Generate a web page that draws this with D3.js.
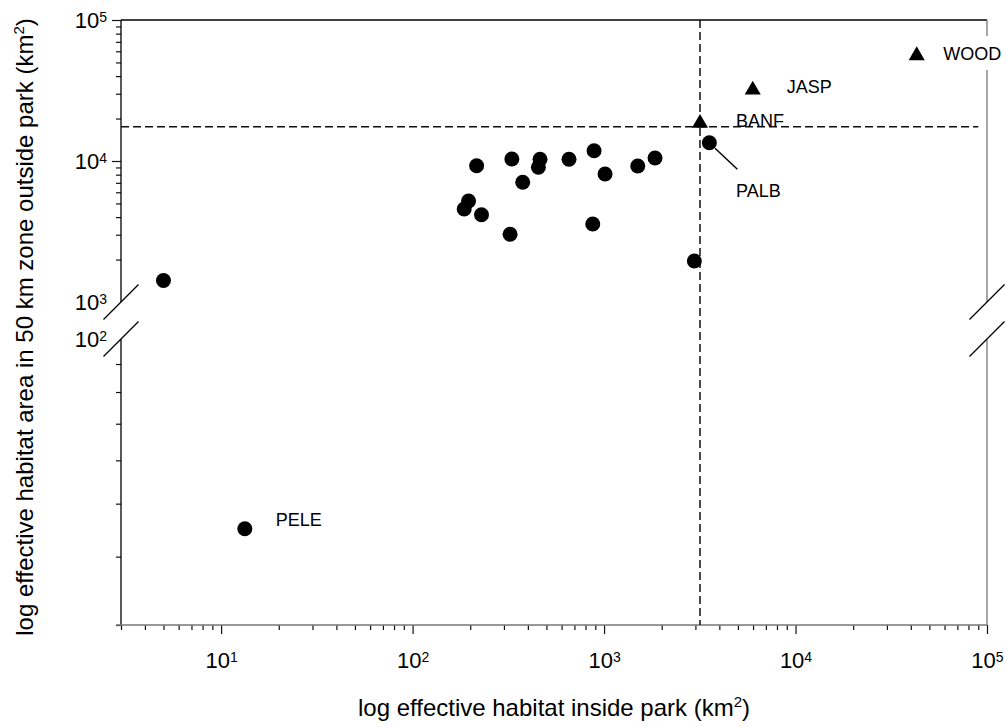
<!DOCTYPE html>
<html>
<head>
<meta charset="utf-8">
<script src="https://cdn.jsdelivr.net/npm/d3@7"></script>
<style>
  body { margin: 0; background: #fff; }
  svg text { font-family: Arial, "Liberation Sans", sans-serif; fill: #000; }
</style>
</head>
<body>
<svg id="chart" width="1007" height="727"></svg>
<script>
// parks drawn as circles: effective habitat inside park vs. in the 50 km zone (km2)
const circleNames = ['', 'PELE', '', '', '', '', '', '', '', '', '', '', '', '', '', '', '', '', 'PALB'];
const circleInside = [5, 13.3, 186, 196, 216, 229, 323, 330, 376, 463, 454, 656, 887, 873, 1012, 1500, 1846, 2962, 3548];
const circleOutside = [1420, 45, 4570, 5200, 9260, 4160, 3020, 10330, 7060, 10280, 9020, 10280, 11830, 3575, 8090, 9220, 10500, 1953, 13480];

// parks drawn as triangles
const triangleNames = ['BANF', 'JASP', 'WOOD'];
const triangleInside = [3170, 5977, 42950];
const triangleOutside = [18540, 31920, 55900];

// reference (dashed) lines
const thresholdInside = 3170;
const thresholdOutside = 17500;
const thresholdOutsideEnd = 90000;

const xTitle = 'log effective habitat inside park (km';
const yTitle = 'log effective habitat area in 50 km zone outside park (km';

/** label placement relative to its marker */
const labelLayout = {
  BANF: { dx: 36, dy: 3.5 },
  JASP: { dx: 34, dy: 3.4 },
  WOOD: { dx: 26.6, dy: 4.4, knockout: true },
  PALB: { dx: 26.7, dy: 54, leader: [[5.7, 5.6], [28, 26.6]] },
  PELE: { dx: 31, dy: -3 }
};

const svg = d3.select('#chart');

const x = d3.scaleLog().domain([3, 1e5]).range([121, 987]);
// broken y axis: upper and lower log segments
const yUpper = d3.scaleLog().domain([1e3, 1e5]).range([302, 20]);
const yLower = d3.scaleLog().domain([30, 100]).range([625, 339]);
const y = v => v >= 1e3 ? yUpper(v) : yLower(v);

const isPow10 = v => Math.abs(Math.log10(v) - Math.round(Math.log10(v))) < 1e-9;

function powerLabel(text) {
  text.each(function (d) {
    const t = d3.select(this).text(null).attr('dy', null);
    t.append('tspan').text('10');
    t.append('tspan').attr('font-size', 14).attr('dy', -6).text(Math.round(Math.log10(d)));
  });
}

// ----- x axis
const xMinor = x.ticks().filter(v => !isPow10(v));
const xMajor = x.ticks().filter(isPow10);

svg.append('g')
  .attr('transform', 'translate(0,625)')
  .call(d3.axisBottom(x).tickValues(xMinor).tickSize(5).tickFormat(''))
  .call(g => g.select('.domain').remove());

svg.append('g')
  .attr('transform', 'translate(0,625)')
  .call(d3.axisBottom(x).tickValues(xMajor).tickSize(9))
  .call(g => g.select('.domain').remove())
  .call(g => g.selectAll('.tick text')
    .attr('y', 42.5).attr('font-size', 22).call(powerLabel));

// ----- y axis, two segments
const yUpperTicks = yUpper.ticks().filter(v => v > 1e3);
const yLowerTicks = yLower.ticks().filter(v => v < 100);

[[yUpper, yUpperTicks], [yLower, yLowerTicks]].forEach(([scale, ticks]) => {
  svg.append('g')
    .attr('transform', 'translate(121,0)')
    .call(d3.axisLeft(scale).tickValues(ticks.filter(v => !isPow10(v))).tickSize(5).tickFormat(''))
    .call(g => g.select('.domain').remove());
  svg.append('g')
    .attr('transform', 'translate(121,0)')
    .call(d3.axisLeft(scale).tickValues(ticks.filter(isPow10)).tickSize(9).tickFormat(''))
    .call(g => g.select('.domain').remove());
});

svg.selectAll('.tick line').attr('stroke', '#111').attr('stroke-width', 1.2);

// y tick labels, including the values at the break
const yLabelValues = [1e5, 1e4, 1e3, 1e2];
svg.append('g')
  .selectAll('text')
  .data(yLabelValues)
  .join('text')
  .attr('x', 107)
  .attr('y', d => (d >= 1e3 ? yUpper(d) : yLower(d)) + 7.5)
  .attr('text-anchor', 'end')
  .attr('font-size', 22)
  .call(powerLabel);

// ----- frame
const breakTop = yUpper(1e3);
const breakBottom = yLower(100);
const frame = svg.append('g').attr('fill', 'none');
frame.append('line').attr('x1', 121).attr('x2', 987).attr('y1', 20).attr('y2', 20).attr('stroke', '#000').attr('stroke-width', 1.3);
frame.append('line').attr('x1', 121).attr('x2', 121).attr('y1', 20).attr('y2', breakTop).attr('stroke', '#000').attr('stroke-width', 1.3);
frame.append('line').attr('x1', 121).attr('x2', 121).attr('y1', breakBottom).attr('y2', 625).attr('stroke', '#000').attr('stroke-width', 1.3);
frame.append('line').attr('x1', 987).attr('x2', 987).attr('y1', 20).attr('y2', breakTop).attr('stroke', '#777').attr('stroke-width', 1.3);
frame.append('line').attr('x1', 987).attr('x2', 987).attr('y1', breakBottom).attr('y2', 625).attr('stroke', '#777').attr('stroke-width', 1.3);
frame.append('line').attr('x1', 116).attr('x2', 987).attr('y1', 625).attr('y2', 625).attr('stroke', '#777').attr('stroke-width', 1.5);

// break marks
[121, 987].forEach(bx => {
  [breakTop, breakBottom].forEach(by => {
    frame.append('line')
      .attr('x1', bx - 17.5).attr('y1', by + 17.5)
      .attr('x2', bx + 17.5).attr('y2', by - 17.5)
      .attr('stroke', '#000').attr('stroke-width', 1.3);
  });
});

// ----- dashed reference lines
const dashed = svg.append('g')
  .attr('stroke', '#111').attr('stroke-width', 1.5).attr('stroke-dasharray', '8,4');
dashed.append('line')
  .attr('x1', x(thresholdInside)).attr('x2', x(thresholdInside))
  .attr('y1', 20).attr('y2', 625);
dashed.append('line')
  .attr('x1', x(3)).attr('x2', x(thresholdOutsideEnd))
  .attr('y1', y(thresholdOutside)).attr('y2', y(thresholdOutside));

// ----- markers
const circles = circleInside.map((v, i) => ({ name: circleNames[i], inside: v, outside: circleOutside[i] }));
const triangles = triangleInside.map((v, i) => ({ name: triangleNames[i], inside: v, outside: triangleOutside[i] }));

svg.append('g')
  .selectAll('circle')
  .data(circles)
  .join('circle')
  .attr('cx', d => x(d.inside))
  .attr('cy', d => y(d.outside))
  .attr('r', 7.5)
  .attr('fill', '#000');

svg.append('g')
  .selectAll('path')
  .data(triangles)
  .join('path')
  .attr('transform', d => `translate(${x(d.inside)},${y(d.outside)})`)
  .attr('d', d3.symbol(d3.symbolTriangle, 112))
  .attr('fill', '#000');

// ----- point labels
const labelled = circles.concat(triangles).filter(d => d.name);
const labels = svg.append('g');
labelled.forEach(d => {
  const lay = labelLayout[d.name];
  const px = x(d.inside), py = y(d.outside);
  if (lay.leader) {
    labels.append('line')
      .attr('x1', px + lay.leader[0][0]).attr('y1', py + lay.leader[0][1])
      .attr('x2', px + lay.leader[1][0]).attr('y2', py + lay.leader[1][1])
      .attr('stroke', '#000').attr('stroke-width', 1.5);
  }
  const bg = labels.append('rect').attr('fill', '#fff');
  const t = labels.append('text')
    .attr('x', px + lay.dx)
    .attr('y', py + lay.dy)
    .attr('font-size', 18)
    .text(d.name);
  if (lay.knockout) {
    const b = t.node().getBBox();
    bg.attr('x', b.x - 6).attr('y', b.y - 8).attr('width', b.width + 12).attr('height', b.height + 14);
  } else {
    bg.remove();
  }
});

// ----- axis titles
const xt = svg.append('text')
  .attr('x', 554).attr('y', 716)
  .attr('text-anchor', 'middle')
  .attr('font-size', 24);
xt.append('tspan').text(xTitle);
xt.append('tspan').attr('font-size', 15).attr('dy', -9).text('2');
xt.append('tspan').attr('dy', 9).text(')');

const yt = svg.append('text')
  .attr('transform', 'translate(33,327) rotate(-90)')
  .attr('text-anchor', 'middle')
  .attr('font-size', 24);
yt.append('tspan').text(yTitle);
yt.append('tspan').attr('font-size', 15).attr('dy', -9).text('2');
yt.append('tspan').attr('dy', 9).text(')');
</script>
</body>
</html>
